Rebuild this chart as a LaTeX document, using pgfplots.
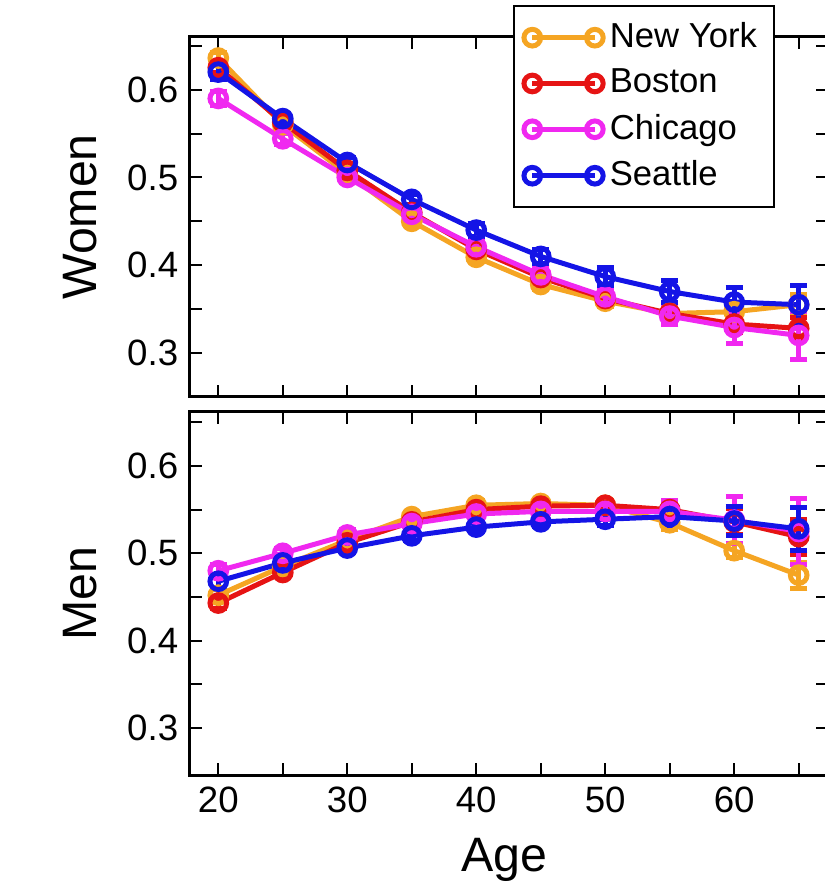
\documentclass[border=0pt]{standalone}
\usepackage{fontspec}
\setmainfont{Liberation Sans}
\usepackage{pgfplots}
\usepackage{pgfplotstable}
\pgfplotsset{compat=1.18}

\definecolor{cNY}{RGB}{245,165,35}
\definecolor{cBO}{RGB}{230,20,20}
\definecolor{cCH}{RGB}{240,40,240}
\definecolor{cSE}{RGB}{20,20,230}

% age, value and error for each city
\pgfplotstableread{
x  ny    nye    bo    boe    ch    che    se    see
20 0.636 0.006  0.625 0.006  0.590 0.008  0.620 0.008
25 0.560 0.005  0.563 0.005  0.544 0.006  0.567 0.006
30 0.504 0.005  0.508 0.005  0.500 0.006  0.517 0.006
35 0.450 0.005  0.460 0.005  0.458 0.006  0.475 0.006
40 0.409 0.005  0.418 0.005  0.421 0.006  0.440 0.007
45 0.378 0.006  0.386 0.006  0.389 0.007  0.410 0.008
50 0.359 0.006  0.362 0.007  0.364 0.008  0.387 0.010
55 0.345 0.007  0.345 0.008  0.342 0.010  0.370 0.012
60 0.347 0.010  0.333 0.010  0.329 0.018  0.358 0.017
65 0.355 0.012  0.328 0.012  0.320 0.027  0.355 0.022
}\women

\pgfplotstableread{
x  ny    nye    bo    boe    ch    che    se    see
20 0.452 0.006  0.443 0.006  0.480 0.007  0.468 0.008
25 0.485 0.005  0.478 0.005  0.500 0.006  0.489 0.006
30 0.515 0.005  0.512 0.005  0.521 0.006  0.506 0.005
35 0.542 0.005  0.536 0.005  0.534 0.006  0.520 0.005
40 0.555 0.005  0.550 0.005  0.545 0.006  0.530 0.005
45 0.557 0.005  0.554 0.005  0.548 0.006  0.536 0.005
50 0.555 0.006  0.555 0.006  0.548 0.008  0.539 0.007
55 0.535 0.008  0.550 0.009  0.548 0.012  0.542 0.010
60 0.503 0.008  0.536 0.015  0.538 0.027  0.537 0.017
65 0.475 0.015  0.519 0.020  0.525 0.038  0.528 0.025
}\men

\pgfplotsset{
  panel/.style={
    scale only axis, width=191.6pt,
    xmin=17.8, xmax=67.3,
    xtick={20,30,...,60}, minor xtick={25,35,...,65},
    ytick={0.3,0.4,0.5,0.6}, minor ytick={0.35,0.45,0.55,0.65},
    tick align=inside, tick pos=both,
    major tick length=3.6pt, minor tick length=3.6pt,
    every tick/.style={black, line width=0.6pt},
    axis line style={line width=0.9pt},
    tick label style={font=\fontsize{11}{13}\selectfont},
    yticklabel style={/pgf/number format/.cd, fixed, precision=1, zerofill},
    /pgf/number format/assume math mode=true,
    label style={font=\fontsize{14.5}{17}\selectfont},
    ylabel style={at={(axis description cs:-0.172,0.5)}, anchor=center},
    every axis plot/.append style={line width=1.5pt, mark=o, mark size=2.5pt,
      error bars/y dir=both, error bars/y explicit,
      error bars/error bar style={line width=1.5pt},
      error bars/error mark=-,
      error bars/error mark options={rotate=90, line width=1.5pt, mark size=2.6pt}},
  },
  legend image code/.code={\draw[#1] plot coordinates {(0cm,0cm) (0.66cm,0cm)};},
}

\begin{document}
\begin{tikzpicture}
\begin{axis}[panel, name=top, at={(0,0)}, anchor=south west,
  height=108pt, ymin=0.25, ymax=0.66,
  xticklabels={},
  ylabel={Women},
  legend cell align=left,
  legend style={at={(axis description cs:0.506,1.089)}, anchor=north west,
    draw=black, line width=0.6pt, fill=white,
    font=\fontsize{10.4}{12}\selectfont, row sep=0.9pt,
    inner xsep=3pt, inner ysep=3pt},
]
\addplot[cNY] table[x=x, y=ny, y error=nye] {\women};
\addplot[cBO] table[x=x, y=bo, y error=boe] {\women};
\addplot[cCH] table[x=x, y=ch, y error=che] {\women};
\addplot[cSE] table[x=x, y=se, y error=see] {\women};
\legend{New York, Boston, Chicago, Seattle}
\end{axis}

\begin{axis}[panel, name=bottom, at={(0,-4.5pt)}, anchor=north west,
  height=109pt, ymin=0.246, ymax=0.662,
  ylabel={Men},
  xlabel={Age},
  xlabel style={at={(axis description cs:0.493,-0.234)}, anchor=center},
]
\addplot[cNY] table[x=x, y=ny, y error=nye] {\men};
\addplot[cBO] table[x=x, y=bo, y error=boe] {\men};
\addplot[cCH] table[x=x, y=ch, y error=che] {\men};
\addplot[cSE] table[x=x, y=se, y error=see] {\men};
\end{axis}

% the reference is cut off at its right edge
\pgfresetboundingbox
\useasboundingbox (-57pt,-149.5pt) rectangle (190.5pt,119.1pt);
\end{tikzpicture}
\end{document}
